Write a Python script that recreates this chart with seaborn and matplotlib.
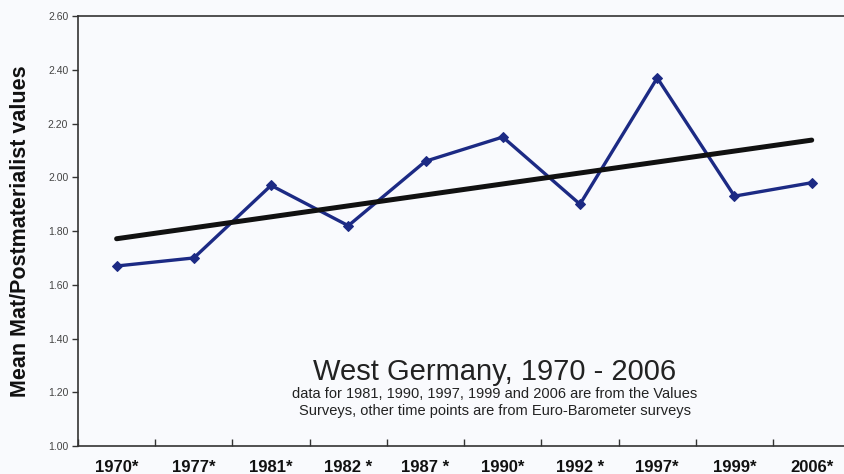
import numpy as np
import pandas as pd
import matplotlib
matplotlib.use("Agg")
import matplotlib.pyplot as plt
import seaborn as sns

# data
years = ["1970*", "1977*", "1981*", "1982 *", "1987 *", "1990*", "1992 *", "1997*", "1999*", "2006*"]
values = [1.67, 1.70, 1.97, 1.82, 2.06, 2.15, 1.90, 2.37, 1.93, 1.98]
y_ticks = [1.00, 1.20, 1.40, 1.60, 1.80, 2.00, 2.20, 2.40, 2.60]

df = pd.DataFrame({"year": years, "value": values})

sns.set_style("white")
plt.rcParams['font.family'] = ['Liberation Sans', 'DejaVu Sans']

bg = "#f9fafd"
fig = plt.figure(figsize=(8.45, 4.74), dpi=100, facecolor=bg)
ax = fig.add_axes([0.0923, 0.059, 0.914, 0.907])
ax.set_facecolor(bg)

sns.lineplot(data=df, x="year", y="value", sort=False, ax=ax, color="#1c2a84",
             linewidth=2.4, marker="D", markersize=5.5, markeredgecolor="#1c2a84")

# linear trend (Excel style)
pos = np.arange(len(values))
slope, intercept = np.polyfit(pos, values, 1)
sns.lineplot(x=pos, y=slope * pos + intercept, ax=ax, color="#111111", linewidth=3.6)

ax.set_xlim(-0.5, len(years) - 0.5)
ax.set_ylim(1.0, 2.6)
ax.set_yticks(y_ticks)
ax.set_yticklabels([f"{v:.2f}" for v in y_ticks], fontsize=7.5, color="#444444")
ax.set_xticks(pos)
ax.set_xticklabels(years, fontsize=12, fontweight="bold", color="#111111")
ax.set_xticks(np.arange(-0.5, len(years), 1), minor=True)
ax.tick_params(axis="x", which="major", length=0, pad=10)
ax.tick_params(axis="x", which="minor", length=5, width=1, color="#333333", direction="in")
ax.tick_params(axis="y", length=4, width=1, color="#333333", direction="out", pad=3)
ax.tick_params(axis="y", which="major", left=True)
ax.tick_params(axis="x", which="minor", bottom=True)

for s in ["left", "bottom", "top"]:
    ax.spines[s].set_color("#333333")
    ax.spines[s].set_linewidth(1.2)
ax.spines["right"].set_visible(False)

ax.set_xlabel("")
ax.set_ylabel("Mean Mat/Postmaterialist values", fontsize=15.5, fontweight="bold",
              color="#111111", labelpad=12)

ax.text(4.9, 1.245, "West Germany, 1970 - 2006", ha="center", va="baseline", fontsize=21, color="#222222")
ax.text(4.9, 1.178, "data for 1981, 1990, 1997, 1999 and 2006 are from the Values",
        ha="center", va="baseline", fontsize=10.5, color="#222222")
ax.text(4.9, 1.115, "Surveys, other time points are from Euro-Barometer surveys",
        ha="center", va="baseline", fontsize=10.5, color="#222222")

fig.savefig("out.png", dpi=100, facecolor=bg)
